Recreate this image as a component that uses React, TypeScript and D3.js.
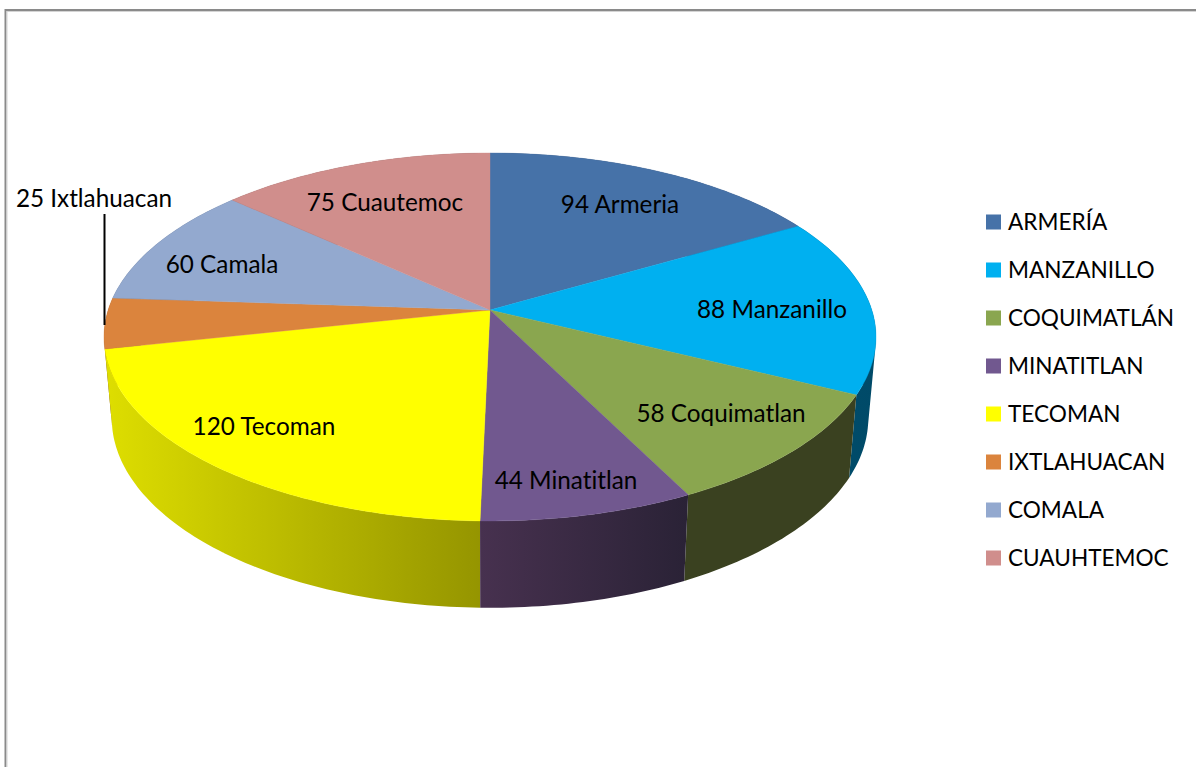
import React from "react";
import * as d3 from "d3";

const legendNames = ["ARMERÍA", "MANZANILLO", "COQUIMATLÁN", "MINATITLAN", "TECOMAN", "IXTLAHUACAN", "COMALA", "CUAUHTEMOC"];
const labelNames = ["Armeria", "Manzanillo", "Coquimatlan", "Minatitlan", "Tecoman", "Ixtlahuacan", "Camala", "Cuautemoc"];
const values = [94, 88, 58, 44, 120, 25, 60, 75];
const topColors = ["#4672a8", "#00b0f0", "#8aa64f", "#71588f", "#ffff00", "#db843d", "#93a9cf", "#d08e8c"];
const sideFrom = ["#2a4464", "#004d6c", "#3a4120", "#47314f", "#dede00", "#83501f", "#58657c", "#7c5554"];
const sideTo = ["#2a4464", "#004a68", "#3a4120", "#2a2236", "#959500", "#83501f", "#58657c", "#7c5554"];
const labelCenters: [number, number][] = [[620, 203.5], [772, 308.5], [721, 412.5], [566, 479.5], [264, 425.5], [94, 197.5], [222, 263.5], [385, 201.5]];

const W = 1196, H = 767;
const CX = 490, CY = 310, R = 381.8, K = 0.1467, RY = 180;
const BOTTOM_CY = 390.5, BOTTOM_SX = 0.98, BOTTOM_SY = 1.03;
const paintOrder = [0, 7, 6, 5, 1, 2, 4, 3];
const FONT = "Lato, Carlito, 'Open Sans', sans-serif";

type P = [number, number];
const topPoint = (a: number, r = 1): P => {
  const u = Math.sin(a) * r, v = Math.cos(a) * r, w = 1 + K * v;
  return [CX + (R * u) / w, CY - (RY * v) / w];
};
const bottomPoint = (a: number): P => {
  const [x, y] = topPoint(a);
  return [CX + (x - CX) * BOTTOM_SX, BOTTOM_CY + (y - CY) * BOTTOM_SY];
};
const samples = (a0: number, a1: number) => {
  const n = Math.max(2, Math.ceil(((a1 - a0) * 180) / Math.PI));
  return d3.range(n + 1).map((i) => a0 + ((a1 - a0) * i) / n);
};
const line = d3.line<P>().x((d) => d[0]).y((d) => d[1]);

// The side wall is a union of small quads so its outline follows the silhouette
// where the top and bottom rims cross.
const sidePath = (a0: number, a1: number) => {
  const as = samples(a0, a1);
  return d3.pairs(as).map(([s, e]) => {
    const quad: P[] = [topPoint(s), topPoint(e), bottomPoint(e), bottomPoint(s)];
    if (d3.polygonArea(quad) < 0) quad.reverse();
    return (line(quad) as string) + "Z";
  }).join("");
};

export default function App() {
  const arcs = d3.pie<number>().sort(null).startAngle(0).endAngle(2 * Math.PI)(values);
  const legendY = d3.scalePoint<string>().domain(legendNames).range([221.5, 557.5]);
  const gradExtent = (i: number): [number, number] => {
    const xs = samples(arcs[i].startAngle, arcs[i].endAngle).map((a) => topPoint(a)[0]);
    return [d3.min(xs) as number, d3.max(xs) as number];
  };
  return (
    <svg width={W} height={H} viewBox={`0 0 ${W} ${H}`} style={{ position: "absolute", left: 0, top: 0, background: "#fff", fontVariantLigatures: "none" }}>
      <defs>
        {arcs.map((_, i) => {
          const [x1, x2] = gradExtent(i);
          return (
            <linearGradient key={i} id={`side${i}`} gradientUnits="userSpaceOnUse" x1={x1} x2={x2} y1={0} y2={0}>
              <stop offset="0" stopColor={sideFrom[i]} />
              <stop offset="1" stopColor={sideTo[i]} />
            </linearGradient>
          );
        })}
      </defs>
      <path d="M5.5 767V10H1196" fill="none" stroke="#8a8a8a" strokeWidth={2} />
      <path d="M7 767V11.5H1196" fill="none" stroke="#d4d4d4" strokeWidth={1} />
      {paintOrder.map((i) => (
        <path key={i} d={sidePath(arcs[i].startAngle, arcs[i].endAngle)} fill={`url(#side${i})`} />
      ))}
      {arcs.map((d, i) => {
        const pts: P[] = [[CX, CY], ...samples(d.startAngle, d.endAngle).map((a) => topPoint(a))];
        return <path key={i} d={(line(pts) as string) + "Z"} fill={topColors[i]} stroke={topColors[i]} strokeWidth={0.4} />;
      })}
      <line x1={104.5} x2={104.5} y1={214} y2={325} stroke="#000" strokeWidth={2} />
      {arcs.map((_, i) => (
        <text key={i} x={labelCenters[i][0]} y={labelCenters[i][1]} textAnchor="middle" dominantBaseline="central" fontFamily={FONT} fontSize={24.3} fill="#000">
          {`${values[i]} ${labelNames[i]}`}
        </text>
      ))}
      {legendNames.map((n, i) => (
        <g key={n}>
          <rect x={986} y={(legendY(n) as number) - 7} width={15} height={15} fill={topColors[i]} />
          <text x={1008} y={(legendY(n) as number) - 0.5} dominantBaseline="central" fontFamily={FONT} fontSize={22.6} fill="#000">
            {n}
          </text>
        </g>
      ))}
    </svg>
  );
}
